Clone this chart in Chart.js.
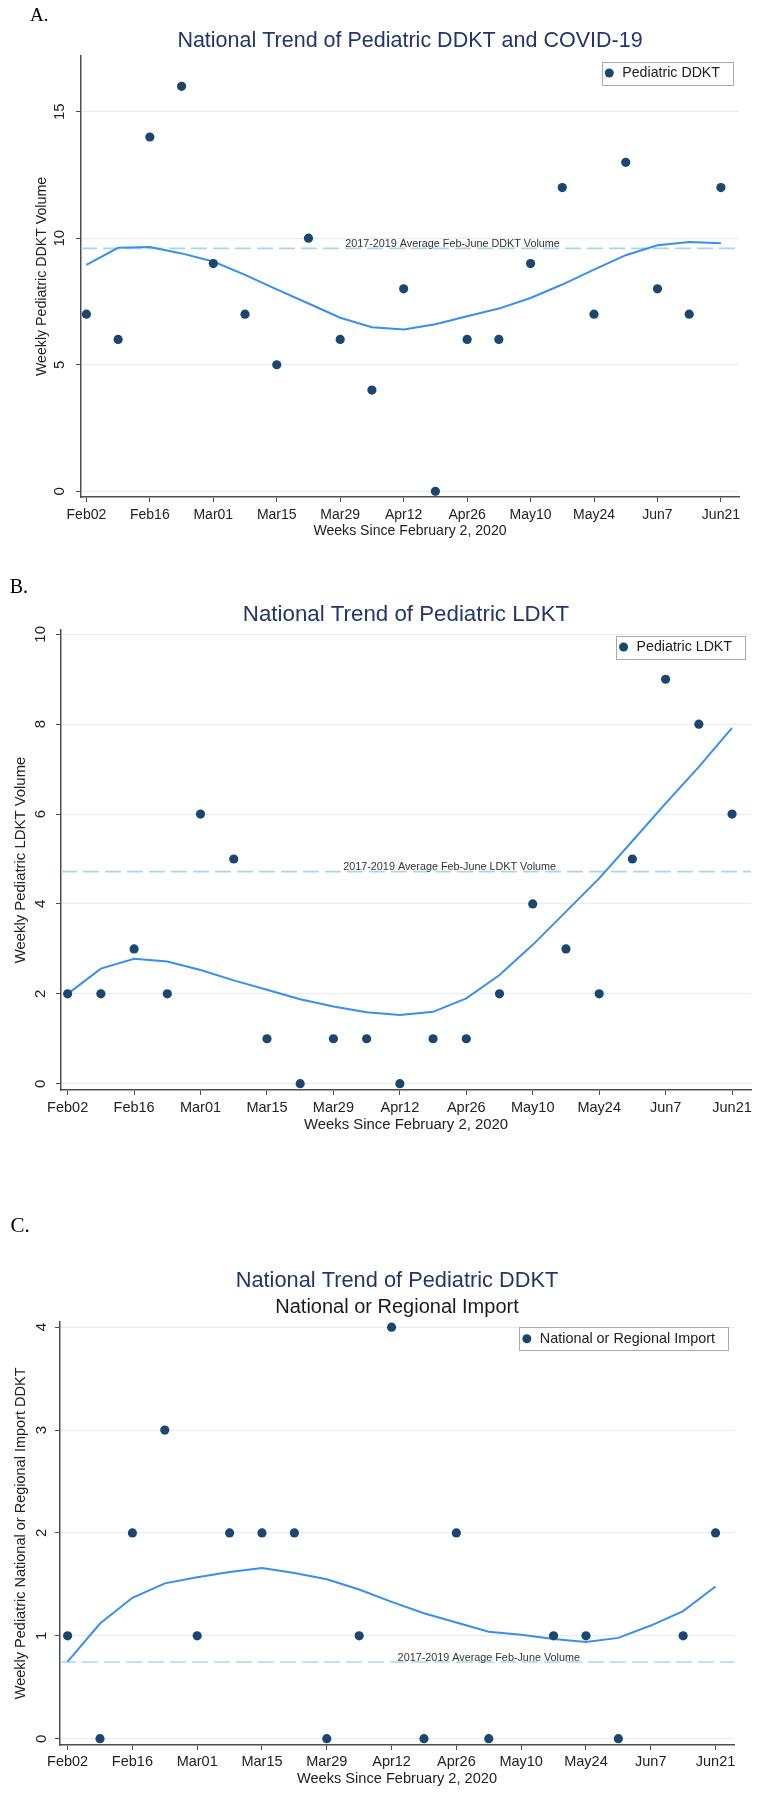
<!DOCTYPE html>
<html>
<head>
<meta charset="utf-8">
<script src="https://cdn.jsdelivr.net/npm/chart.js@4.4.1/dist/chart.umd.min.js"></script>
<style>
  html, body { margin: 0; padding: 0; background: #fff; }
  body { width: 757px; height: 1800px; position: relative; overflow: hidden; }
  canvas { position: absolute; left: 0; }
</style>
</head>
<body>
<canvas id="panelA" width="757" height="560" style="top:0px"></canvas>
<canvas id="panelB" width="757" height="580" style="top:560px"></canvas>
<canvas id="panelC" width="757" height="660" style="top:1140px"></canvas>
<script>
// weeks since Feb 2, 2020 (0 = Feb02 ... 20 = Jun21)
const weeks = [0, 1, 2, 3, 4, 5, 6, 7, 8, 9, 10, 11, 12, 13, 14, 15, 16, 17, 18, 19, 20];
const weekTicks = [0, 2, 4, 6, 8, 10, 12, 14, 16, 18, 20];
const weekLabels = ['Feb02', 'Feb16', 'Mar01', 'Mar15', 'Mar29', 'Apr12', 'Apr26', 'May10', 'May24', 'Jun7', 'Jun21'];

// A. pediatric DDKT
const ddktCounts = [7, 6, 14, 16, 9, 7, 5, 10, 6, 4, 8, 0, 6, 6, 9, 12, 7, 13, 8, 7, 12];
const ddktLowess = [8.95, 9.62, 9.65, 9.4, 9.08, 8.55, 7.98, 7.42, 6.86, 6.48, 6.39, 6.6, 6.92, 7.22, 7.64, 8.17, 8.76, 9.33, 9.72, 9.85, 9.8];
const ddktAverage = 9.6;
const ddktYTicks = [0, 5, 10, 15];

// B. pediatric LDKT
const ldktCounts = [2, 2, 3, 2, 6, 5, 1, 0, 1, 1, 0, 1, 1, 2, 4, 3, 2, 5, 9, 8, 6];
const ldktLowess = [2.0, 2.56, 2.78, 2.72, 2.53, 2.3, 2.09, 1.88, 1.72, 1.59, 1.53, 1.6, 1.9, 2.42, 3.09, 3.83, 4.57, 5.4, 6.24, 7.05, 7.92];
const ldktAverage = 4.72;
const ldktYTicks = [0, 2, 4, 6, 8, 10];

// C. national or regional import DDKT (no mark in two weeks)
const importCounts = [1, 0, 2, 3, 1, 2, 2, 2, 0, 1, 4, 0, 2, 0, null, 1, 1, 0, null, 1, 2];
const importLowess = [0.75, 1.12, 1.37, 1.51, 1.57, 1.62, 1.66, 1.61, 1.55, 1.45, 1.33, 1.22, 1.13, 1.04, 1.01, 0.97, 0.94, 0.98, 1.1, 1.24, 1.48];
const importAverage = 0.745;
const importYTicks = [0, 1, 2, 3, 4];

const SANS = '"Liberation Sans", Arial, Helvetica, sans-serif';
const SERIF = '"Liberation Serif", "Times New Roman", serif';
const NAVY = '#1a476f';
const BLUE = '#3790ee';
const DASH = '#a9d6ea';
const GRID = '#e4eef0';
const AXIS = '#4d4d4d';
const TEXT = '#222222';
const TITLE = '#24356a';

function decor(p) {
  return {
    id: 'decor',
    afterDraw(chart) {
      const ctx = chart.ctx;
      const area = chart.chartArea;
      const ys = chart.scales.y;
      const xs = chart.scales.x;
      const mid = (area.left + area.right) / 2;
      ctx.save();

      ctx.fillStyle = '#000';
      ctx.font = p.letterSize + 'px ' + SERIF;
      ctx.textAlign = 'left';
      ctx.textBaseline = 'alphabetic';
      ctx.fillText(p.letter, p.letterX, p.letterY);

      ctx.textAlign = 'center';
      ctx.fillStyle = TITLE;
      ctx.font = p.titleSize + 'px ' + SANS;
      ctx.fillText(p.title, mid, p.titleY);
      if (p.subtitle) {
        ctx.fillStyle = '#1a1a1a';
        ctx.font = p.subtitleSize + 'px ' + SANS;
        ctx.fillText(p.subtitle, mid, p.subtitleY);
      }

      // rotated y tick labels, like Stata
      ctx.fillStyle = TEXT;
      ctx.font = '15px ' + SANS;
      ctx.textBaseline = 'middle';
      ys.ticks.forEach(t => {
        ctx.save();
        ctx.translate(area.left - p.yLabelOffset, ys.getPixelForValue(t.value));
        ctx.rotate(-Math.PI / 2);
        ctx.fillText(String(t.value), 0, 0);
        ctx.restore();
      });

      // reference line label
      ctx.fillStyle = '#333';
      ctx.font = '10.8px ' + SANS;
      ctx.textBaseline = 'alphabetic';
      ctx.fillText(p.avgText, xs.getPixelForValue(p.avgWeek), ys.getPixelForValue(p.avg) - 1.5);

      // legend box in the top right corner
      const ds = chart.data.datasets[0];
      ctx.font = p.legendSize + 'px ' + SANS;
      const tw = ctx.measureText(ds.label).width;
      const bw = 20.5 + tw + 13;
      const bh = 23;
      const bx = area.right - 6 - bw;
      const by = area.top + 5.5;
      ctx.fillStyle = '#fff';
      ctx.fillRect(bx, by, bw, bh);
      ctx.strokeStyle = '#aaaaaa';
      ctx.lineWidth = 1;
      ctx.strokeRect(Math.round(bx) + 0.5, Math.round(by) + 0.5, Math.round(bw), bh);
      ctx.fillStyle = ds.backgroundColor;
      ctx.beginPath();
      ctx.arc(bx + 7.5, by + bh / 2, 4.5, 0, Math.PI * 2);
      ctx.fill();
      ctx.fillStyle = TEXT;
      ctx.textAlign = 'left';
      ctx.textBaseline = 'middle';
      ctx.fillText(ds.label, bx + 20.5, by + bh / 2 + 0.5);

      ctx.restore();
    }
  };
}

function buildChart(id, p) {
  const points = weeks.map((w, i) => ({ x: w, y: p.counts[i] }));
  const smooth = weeks.map((w, i) => ({ x: w, y: p.smooth[i] }));
  const avgLine = [{ x: p.xMin, y: p.avg }, { x: p.xMax, y: p.avg }];
  const font = size => ({ family: SANS, size: size });

  return new Chart(document.getElementById(id), {
    type: 'scatter',
    data: {
      datasets: [
        { label: p.legend, data: points, backgroundColor: NAVY, borderWidth: 0, pointRadius: 4.6, order: 0 },
        { type: 'line', label: 'lowess', data: smooth, borderColor: BLUE, borderWidth: 2, pointRadius: 0, tension: 0, fill: false, order: 1 },
        { type: 'line', label: 'average', data: avgLine, borderColor: DASH, borderWidth: 1.6, borderDash: [16, 6], pointRadius: 0, fill: false, order: 2 }
      ]
    },
    options: {
      responsive: false,
      animation: false,
      devicePixelRatio: 1,
      layout: { padding: { left: 0, top: p.top, right: 757 - p.right, bottom: p.height - p.bottom - p.xAxisH } },
      plugins: { legend: { display: false }, tooltip: { enabled: false }, title: { display: false } },
      scales: {
        x: {
          type: 'linear', min: p.xMin, max: p.xMax,
          afterBuildTicks: s => { s.ticks = weekTicks.map(v => ({ value: v })); },
          afterFit: s => { s.height = p.xAxisH; },
          ticks: { callback: (v, i) => weekLabels[i], font: font(p.tickSize), color: TEXT, padding: p.xTickPad, maxRotation: 0, autoSkip: false },
          grid: { drawOnChartArea: false, drawTicks: true, tickLength: 5, tickColor: AXIS, tickWidth: 1 },
          border: { display: true, color: AXIS, width: 1.5 },
          title: { display: true, text: 'Weeks Since February 2, 2020', font: font(p.xTitleSize), color: TEXT, padding: { top: 0, bottom: p.xTitlePad } }
        },
        y: {
          type: 'linear', min: p.yMin, max: p.yMax,
          afterBuildTicks: s => { s.ticks = p.yTicks.map(v => ({ value: v })); },
          afterFit: s => { s.width = p.left; },
          ticks: { display: false },
          grid: { color: GRID, lineWidth: 1, drawTicks: true, tickLength: 5, tickColor: AXIS, tickWidth: 1 },
          border: { display: true, color: AXIS, width: 1.5 },
          title: { display: true, text: p.yTitle, font: font(p.yTitleSize), color: TEXT, padding: { top: p.yTitlePad, bottom: 0 } }
        }
      }
    },
    plugins: [decor(p)]
  });
}

buildChart('panelA', {
  counts: ddktCounts, smooth: ddktLowess, avg: ddktAverage, yTicks: ddktYTicks,
  top: 56, bottom: 497, left: 81, right: 739, height: 560, xAxisH: 45,
  yMin: -0.225, yMax: 17.2, xMin: -0.17, xMax: 20.57,
  letter: 'A.', letterX: 30, letterY: 20.7, letterSize: 19,
  title: 'National Trend of Pediatric DDKT and COVID-19', titleSize: 21.5, titleY: 47.3,
  legend: 'Pediatric DDKT', legendSize: 14.2,
  yTitle: 'Weekly Pediatric DDKT Volume', yTitleSize: 14.2, yTitlePad: 33.6, yLabelOffset: 21.5,
  tickSize: 14, xTickPad: 4.6, xTitleSize: 14.1, xTitlePad: 2.9,
  avgText: '2017-2019 Average Feb-June DDKT Volume', avgWeek: 11.54
});

buildChart('panelB', {
  counts: ldktCounts, smooth: ldktLowess, avg: ldktAverage, yTicks: ldktYTicks,
  top: 70, bottom: 530, left: 61, right: 751, height: 580, xAxisH: 47,
  yMin: -0.14, yMax: 10.096, xMin: -0.2, xMax: 20.57,
  letter: 'B.', letterX: 9.7, letterY: 32.7, letterSize: 20,
  title: 'National Trend of Pediatric LDKT', titleSize: 22.3, titleY: 60.7,
  legend: 'Pediatric LDKT', legendSize: 14.2,
  yTitle: 'Weekly Pediatric LDKT Volume', yTitleSize: 14.9, yTitlePad: 12, yLabelOffset: 20,
  tickSize: 14.5, xTickPad: 4.3, xTitleSize: 14.9, xTitlePad: 2.7,
  avgText: '2017-2019 Average Feb-June LDKT Volume', avgWeek: 11.5
});

buildChart('panelC', {
  counts: importCounts, smooth: importLowess, avg: importAverage, yTicks: importYTicks,
  top: 181.7, bottom: 605, left: 60, right: 734, height: 660, xAxisH: 45,
  yMin: -0.061, yMax: 4.053, xMin: -0.235, xMax: 20.57,
  letter: 'C.', letterX: 10.6, letterY: 92, letterSize: 21,
  title: 'National Trend of Pediatric DDKT', titleSize: 21.8, titleY: 147.3,
  subtitle: 'National or Regional Import', subtitleSize: 20, subtitleY: 173.3,
  legend: 'National or Regional Import', legendSize: 14.4,
  yTitle: 'Weekly Pediatric National or Regional Import DDKT', yTitleSize: 14.5, yTitlePad: 12.6, yLabelOffset: 18.4,
  tickSize: 14.5, xTickPad: 3.2, xTitleSize: 14.6, xTitlePad: 2.5,
  avgText: '2017-2019 Average Feb-June Volume', avgWeek: 13
});
</script>
</body>
</html>
